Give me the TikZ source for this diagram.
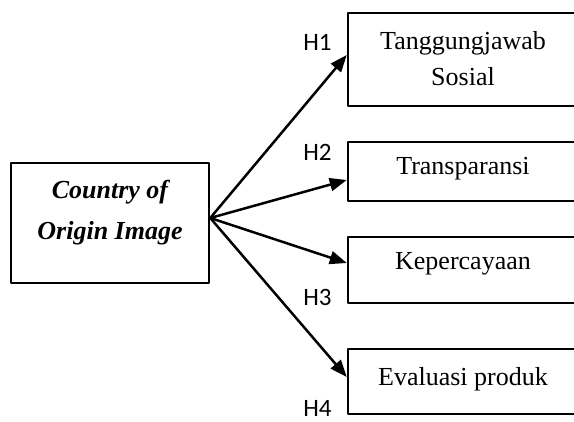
\documentclass[tikz,border=0pt]{standalone}
\usepackage{fontspec}
\setmainfont{Liberation Serif}
\newfontfamily\hfont{Carlito}
\usetikzlibrary{arrows.meta,calc}
\tikzset{
	causebox/.style={draw,line width=2.5pt,inner sep=0pt,minimum width=198pt,align=center,
		font=\fontsize{26}{41}\selectfont\bfseries\itshape},
	effectbox/.style={draw,line width=2.5pt,inner sep=0pt,minimum width=230pt,align=center,
		font=\fontsize{26}{36}\selectfont},
	hyp/.style={anchor=base,font=\hfont\fontsize{25}{30}\selectfont},
	link/.style={line width=2.5pt,-{Triangle[length=17pt,width=13pt]}}
}
\begin{document}
\begin{tikzpicture}[x=1pt,y=-1pt,line join=round,line cap=round]
	\def\xr{463} % tengah kotak kanan
	\useasboundingbox (0,0) rectangle (574,422);
	\node[causebox,text height=77pt,text depth=43pt] (coo) at (110,223) {Country of\\Origin Image};
	\node[effectbox,text height=73pt,text depth=20pt] (tjs) at (\xr,59.5) {Tanggungjawab\\Sosial};
	\node[effectbox,text height=33pt,text depth=26pt] (trp) at (\xr,171.5) {Transparansi};
	\node[effectbox,text height=33pt,text depth=33pt] (kpc) at (\xr,270) {Kepercayaan};
	\node[effectbox,text height=37pt,text depth=28pt] (evp) at (\xr,381.5) {Evaluasi produk};
	\coordinate (src) at ($(coo.east)+(0,-5)$);
	\draw[link] (src) -- ($(tjs.west)+(0,-4.5)$);
	\draw[link] (src) -- ($(trp.west)+(0,8.5)$);
	\draw[link] (src) -- ($(kpc.west)+(0,-7)$);
	\draw[link] (src) -- ($(evp.west)+(0,-4.5)$);
	\node[hyp] (h1) at (317.5,51) {H1};
	\node[hyp] (h2) at (317.5,161) {H2};
	\node[hyp] (h3) at (317.5,306) {H3};
	\node[hyp] (h4) at (317.5,417) {H4};
\end{tikzpicture}
\end{document}
